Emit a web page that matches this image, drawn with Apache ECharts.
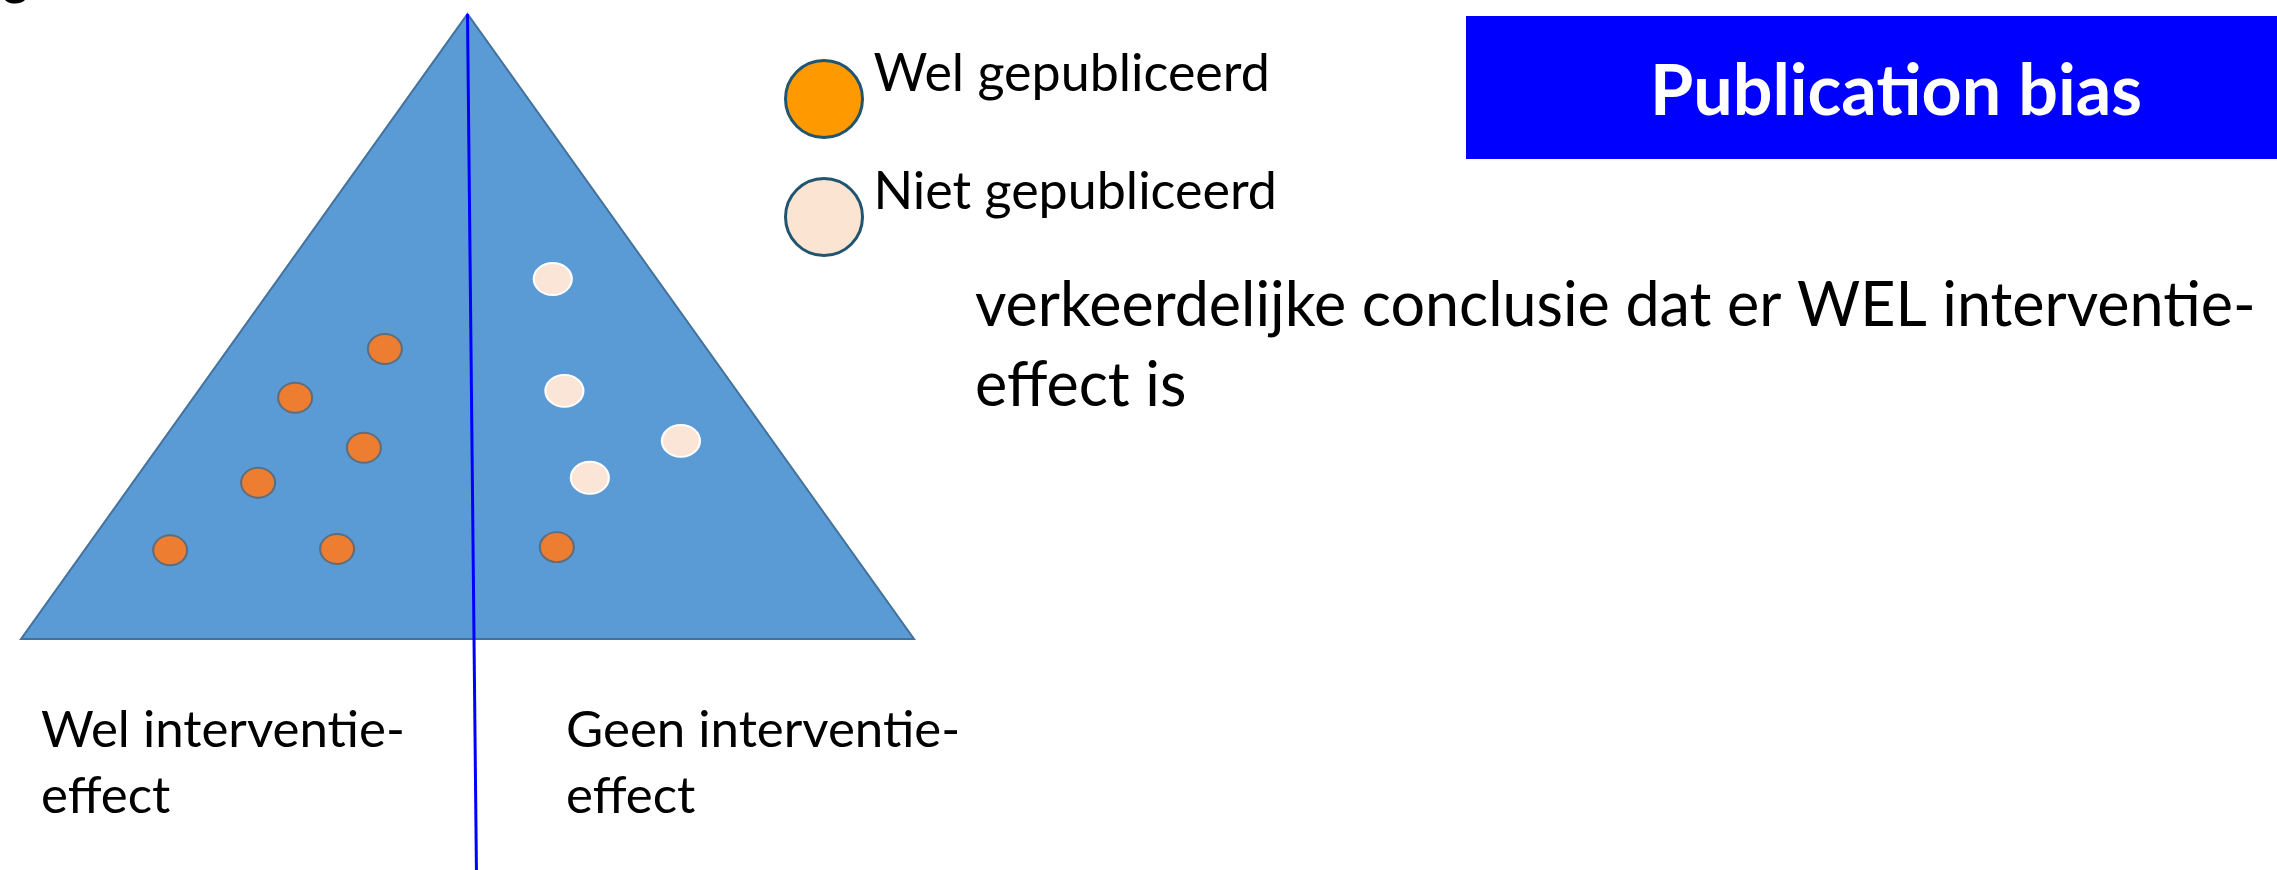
<!DOCTYPE html>
<html>
<head>
<meta charset="utf-8">
<title>Publication bias</title>
<script src="https://cdn.jsdelivr.net/npm/echarts/dist/echarts.min.js"></script>
<style>
    html, body { margin: 0; padding: 0; background: #fff; }
    #main { width: 2277px; height: 870px; }
</style>
</head>
<body>
<div id="main"></div>
<script>
// funnel: effect (x) tegen precisie (y)
var funnelEdge = [[-1, 0], [0, 10], [1, 0]];
var centerLine = [[0, 10], [0.02, -3.7]];

// studies
var welGepubliceerd = [
    [-0.185, 4.64], [-0.386, 3.86], [-0.232, 3.06], [-0.469, 2.50],
    [-0.666, 1.42], [-0.292, 1.44], [0.200, 1.47]
];
var nietGepubliceerd = [
    [0.191, 5.76], [0.217, 3.97], [0.478, 3.17], [0.274, 2.58]
];

var seriesNames = ['Wel gepubliceerd', 'Niet gepubliceerd'];
var titleText = 'Publication bias';
var conclusionText = 'verkeerdelijke conclusie dat er WEL interventie-\neffect is';
var sideLabels = ['Wel interventie-\neffect', 'Geen interventie-\neffect'];

// ellipse symbol, stretched to symbolSize
var ellipse = 'path://M50 0A50 50 0 1 1 50 100A50 50 0 1 1 50 0Z';

var myChart = echarts.init(document.getElementById('main'));

var option = {
    animation: false,
    backgroundColor: '#ffffff',
    grid: {
        left: 21,
        right: 1363,
        top: 14,
        bottom: 231
    },
    xAxis: {
        type: 'value',
        min: -1,
        max: 1,
        show: false
    },
    yAxis: {
        type: 'value',
        min: 0,
        max: 10,
        show: false
    },
    legend: {
        orient: 'vertical',
        left: 784,
        top: 48,
        padding: 0,
        itemWidth: 77,
        itemHeight: 81,
        itemGap: 16,
        icon: ellipse,
        selectedMode: false,
        // tekst staat bovenaan naast het rondje, niet in het midden
        formatter: function (name) { return name + '\n '; },
        textStyle: {
            fontFamily: 'Lato',
            fontSize: 52,
            color: '#000000',
            lineHeight: 50,
            padding: [0, 0, 0, 6]
        },
        data: [
            { name: seriesNames[0], itemStyle: { color: '#ff9900', borderColor: '#1f5570', borderWidth: 3 } },
            { name: seriesNames[1], itemStyle: { color: '#fbe5d2', borderColor: '#1f5570', borderWidth: 3 } }
        ]
    },
    graphic: [
        {
            type: 'text',
            x: 2,
            y: -49,
            style: { text: 'g', font: '52px Lato', fill: '#000' }
        },
        {
            type: 'rect',
            shape: { x: 1466, y: 16, width: 811, height: 143 },
            style: { fill: '#0000ff' }
        },
        {
            type: 'text',
            x: 1896,
            y: 92,
            style: {
                text: titleText,
                font: 'bold 70px Lato',
                fill: '#ffffff',
                align: 'center',
                verticalAlign: 'middle'
            }
        },
        {
            type: 'text',
            x: 975,
            y: 266,
            style: {
                text: conclusionText,
                font: '61px Lato',
                lineHeight: 80,
                fill: '#000000'
            }
        },
        {
            type: 'text',
            x: 41,
            y: 698,
            style: { text: sideLabels[0], font: '51px Lato', lineHeight: 66, fill: '#000000' }
        },
        {
            type: 'text',
            x: 566,
            y: 698,
            style: { text: sideLabels[1], font: '51px Lato', lineHeight: 66, fill: '#000000' }
        }
    ],
    series: [
        {
            // de trechter zelf
            type: 'custom',
            clip: false,
            z: 1,
            data: [funnelEdge[1]],
            renderItem: function (params, api) {
                var pts = funnelEdge.map(function (p) { return api.coord(p); });
                return {
                    type: 'polygon',
                    shape: { points: pts },
                    style: { fill: '#5b9bd5', stroke: '#41719c', lineWidth: 2 }
                };
            }
        },
        {
            type: 'line',
            data: centerLine,
            clip: false,
            z: 2,
            symbol: 'none',
            lineStyle: { color: '#0000ff', width: 3 }
        },
        {
            name: seriesNames[0],
            type: 'scatter',
            z: 3,
            symbol: ellipse,
            symbolSize: [34, 30],
            itemStyle: { color: '#ed7d31', borderColor: '#5d6e7e', borderWidth: 2, opacity: 1 },
            data: welGepubliceerd
        },
        {
            name: seriesNames[1],
            type: 'scatter',
            z: 3,
            symbol: ellipse,
            symbolSize: [38, 32],
            itemStyle: { color: '#fbe5d6', borderColor: '#ffffff', borderWidth: 2, opacity: 1 },
            data: nietGepubliceerd
        }
    ]
};
myChart.setOption(option);
</script>
</body>
</html>
